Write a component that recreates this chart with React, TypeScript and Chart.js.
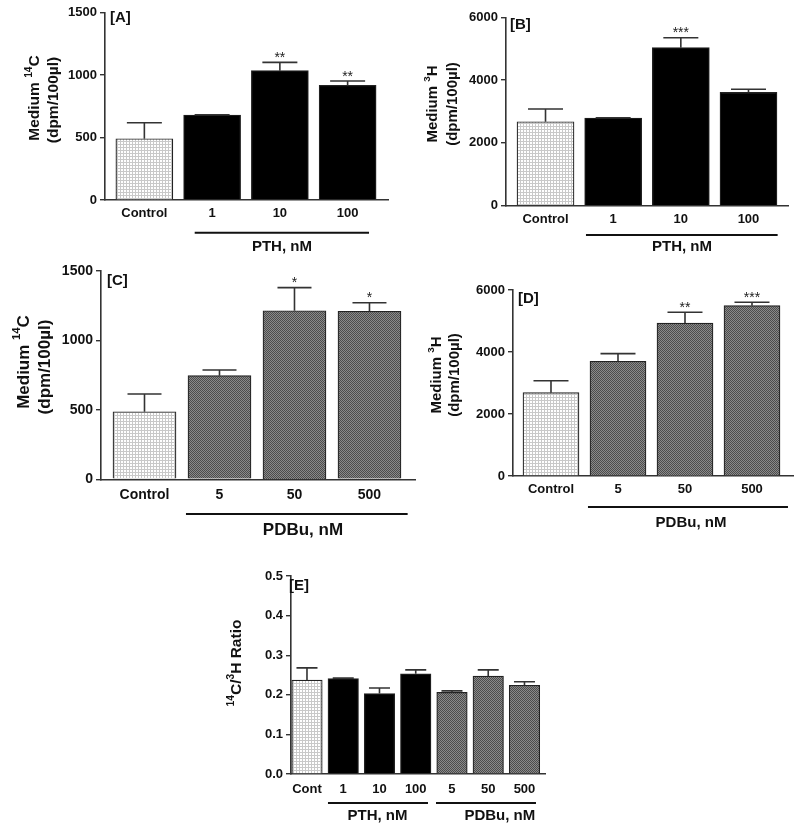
import React, { useEffect, useRef } from 'react';
import { Chart, registerables } from 'chart.js';
Chart.register(...registerables);

// ---------------- data ----------------
const catsA = ['Control', '1', '10', '100'];
const meanA = [490, 680, 1035, 917];
const semA = [128, 2, 66, 35];
const starsA = ['', '', '**', '**'];
const fillA = ['light', 'black', 'black', 'black'];

const catsB = ['Control', '1', '10', '100'];
const meanB = [2675, 2793, 5032, 3611];
const semB = [405, 8, 318, 96];
const starsB = ['', '', '***', ''];
const fillB = ['light', 'black', 'black', 'black'];

const catsC = ['Control', '5', '50', '500'];
const meanC = [486, 745, 1212, 1208];
const semC = [127, 41, 166, 62];
const starsC = ['', '', '*', '*'];
const fillC = ['light', 'gray', 'gray', 'gray'];

const catsD = ['Control', '5', '50', '500'];
const meanD = [2687, 3699, 4935, 5494];
const semD = [388, 247, 345, 109];
const starsD = ['', '', '**', '***'];
const fillD = ['light', 'gray', 'gray', 'gray'];

const catsE = ['Cont', '1', '10', '100', '5', '50', '500'];
const meanE = [0.237, 0.241, 0.203, 0.253, 0.206, 0.247, 0.224];
const semE = [0.031, 0.001, 0.014, 0.01, 0.004, 0.016, 0.009];
const starsE = ['', '', '', '', '', '', ''];
const fillE = ['light', 'black', 'black', 'black', 'gray', 'gray', 'gray'];

const FONT = "'Liberation Sans', Arial, Helvetica, sans-serif";

type Seg = { t: string; sup?: boolean };
type Group = { from: number; to: number; text: string; tx: number };
type Panel = {
  left: number; top: number; w: number; h: number;
  area: { l: number; r: number; t: number; b: number };
  xMin: number; xMax: number; barPx: number; capPx: number;
  tickFont: number; tickPadX: number;
  yMax: number; yStep: number; dec: number;
  cats: string[]; mean: number[]; sem: number[]; stars: string[]; fills: string[];
  title: { lines: Seg[][]; xs: number[]; ys: number[]; size: number };
  label: { text: string; x: number; y: number };
  groups: Group[]; groupY: number; groupTextY: number; groupFont: number;
};

const titleC14: Seg[][] = [[{ t: 'Medium ' }, { t: '14', sup: true }, { t: 'C' }], [{ t: '(dpm/100µl)' }]];
const titleH3: Seg[][] = [[{ t: 'Medium ' }, { t: '3', sup: true }, { t: 'H' }], [{ t: '(dpm/100µl)' }]];
const titleRatio: Seg[][] = [[{ t: '14', sup: true }, { t: 'C/' }, { t: '3', sup: true }, { t: 'H Ratio' }]];

const panels: Panel[] = [
  {
    left: 0, top: 0, w: 400, h: 262, area: { l: 105, r: 388, t: 12.5, b: 200 },
    xMin: -0.581, xMax: 3.596, barPx: 57, capPx: 35, tickFont: 13, tickPadX: 5.5,
    yMax: 1500, yStep: 500, dec: 0,
    cats: catsA, mean: meanA, sem: semA, stars: starsA, fills: fillA,
    title: { lines: titleC14, xs: [35, 54], ys: [98, 100], size: 15.5 },
    label: { text: '[A]', x: 110, y: 18 },
    groups: [{ from: 0.743, to: 3.316, text: 'PTH, nM', tx: 2.03 }], groupY: 232.7, groupTextY: 246.7, groupFont: 15,
  },
  {
    left: 400, top: 0, w: 400, h: 262, area: { l: 106, r: 388, t: 17.3, b: 205.7 },
    xMin: -0.584, xMax: 3.584, barPx: 57, capPx: 35, tickFont: 13, tickPadX: 6,
    yMax: 6000, yStep: 2000, dec: 0,
    cats: catsB, mean: meanB, sem: semB, stars: starsB, fills: fillB,
    title: { lines: titleH3, xs: [33, 53], ys: [104, 104], size: 15 },
    label: { text: '[B]', x: 110, y: 25 },
    groups: [{ from: 0.598, to: 3.431, text: 'PTH, nM', tx: 2.017 }], groupY: 235, groupTextY: 247, groupFont: 15,
  },
  {
    left: 0, top: 250, w: 420, h: 290, area: { l: 101, r: 415, t: 20.7, b: 229.3 },
    xMin: -0.58, xMax: 3.607, barPx: 63, capPx: 34, tickFont: 14, tickPadX: 7.3,
    yMax: 1500, yStep: 500, dec: 0,
    cats: catsC, mean: meanC, sem: semC, stars: starsC, fills: fillC,
    title: { lines: titleC14, xs: [24, 45], ys: [112, 117], size: 17 },
    label: { text: '[C]', x: 107, y: 31 },
    groups: [{ from: 0.553, to: 3.509, text: 'PDBu, nM', tx: 2.113 }], groupY: 264, groupTextY: 280, groupFont: 17,
  },
  {
    left: 400, top: 250, w: 400, h: 290, area: { l: 113, r: 393, t: 40, b: 226 },
    xMin: -0.567, xMax: 3.612, barPx: 56, capPx: 35, tickFont: 13, tickPadX: 5.6,
    yMax: 6000, yStep: 2000, dec: 0,
    cats: catsD, mean: meanD, sem: semD, stars: starsD, fills: fillD,
    title: { lines: titleH3, xs: [37, 55], ys: [125, 125], size: 15 },
    label: { text: '[D]', x: 118, y: 49 },
    groups: [{ from: 0.552, to: 3.537, text: 'PDBu, nM', tx: 2.09 }], groupY: 257, groupTextY: 272.7, groupFont: 15,
  },
  {
    left: 200, top: 560, w: 400, h: 270, area: { l: 91, r: 345, t: 16, b: 214 },
    xMin: -0.441, xMax: 6.566, barPx: 30.5, capPx: 21, tickFont: 13, tickPadX: 7.2,
    yMax: 0.5, yStep: 0.1, dec: 1,
    cats: catsE, mean: meanE, sem: semE, stars: starsE, fills: fillE,
    title: { lines: titleRatio, xs: [37], ys: [103], size: 15.5 },
    label: { text: '[E]', x: 89, y: 26 },
    groups: [
      { from: 0.579, to: 3.338, text: 'PTH, nM', tx: 1.945 },
      { from: 3.559, to: 6.317, text: 'PDBu, nM', tx: 5.32 },
    ],
    groupY: 243, groupTextY: 256, groupFont: 15,
  },
];

function makePatterns() {
  const light = document.createElement('canvas');
  light.width = 3; light.height = 3;
  const lc = light.getContext('2d')!;
  lc.fillStyle = '#ffffff'; lc.fillRect(0, 0, 3, 3);
  lc.fillStyle = '#c9c9c9'; lc.fillRect(0, 0, 3, 1); lc.fillRect(0, 0, 1, 3);
  const gray = document.createElement('canvas');
  gray.width = 2; gray.height = 2;
  const gc = gray.getContext('2d')!;
  gc.fillStyle = '#8a8a8a'; gc.fillRect(0, 0, 2, 2);
  gc.fillStyle = '#4c4c4c'; gc.fillRect(0, 0, 1, 1); gc.fillRect(1, 1, 1, 1);
  const tmp = document.createElement('canvas').getContext('2d')!;
  return {
    light: tmp.createPattern(light, 'repeat'),
    gray: tmp.createPattern(gray, 'repeat'),
    black: '#000000',
  } as Record<string, any>;
}

function drawSegs(ctx: CanvasRenderingContext2D, segs: Seg[], cx: number, cy: number, size: number, rotate: boolean) {
  ctx.save();
  ctx.translate(cx, cy);
  if (rotate) ctx.rotate(-Math.PI / 2);
  let total = 0;
  const parts = segs.map((s) => {
    const fs = s.sup ? size * 0.66 : size;
    ctx.font = `bold ${fs}px ${FONT}`;
    const w = ctx.measureText(s.t).width;
    total += w;
    return { s, fs, w };
  });
  let x = -total / 2;
  ctx.textAlign = 'left';
  ctx.textBaseline = 'middle';
  ctx.fillStyle = '#111';
  for (const p of parts) {
    ctx.font = `bold ${p.fs}px ${FONT}`;
    ctx.fillText(p.s.t, x, p.s.sup ? -size * 0.4 : 0);
    x += p.w;
  }
  ctx.restore();
}

function PanelChart({ p }: { p: Panel }) {
  const ref = useRef<HTMLCanvasElement | null>(null);
  useEffect(() => {
    if (!ref.current) return;
    const pats = makePatterns();
    const deco = {
      id: 'deco',
      afterDatasetsDraw(chart: any) {
        const ctx: CanvasRenderingContext2D = chart.ctx;
        const xs = chart.scales.x;
        const ys = chart.scales.y;
        const meta = chart.getDatasetMeta(0);
        ctx.save();
        // error bars
        ctx.strokeStyle = '#333';
        ctx.lineWidth = 1.6;
        p.mean.forEach((m, i) => {
          const el = meta.data[i];
          const x = el.x;
          const yb = ys.getPixelForValue(m);
          const yt = ys.getPixelForValue(m + p.sem[i]);
          ctx.beginPath();
          ctx.moveTo(x, yb);
          ctx.lineTo(x, yt);
          ctx.moveTo(x - p.capPx / 2, yt);
          ctx.lineTo(x + p.capPx / 2, yt);
          ctx.stroke();
          if (p.stars[i]) {
            ctx.font = `14px ${FONT}`;
            ctx.fillStyle = '#222';
            ctx.textAlign = 'center';
            ctx.textBaseline = 'alphabetic';
            ctx.fillText(p.stars[i], x, yt - 0.5);
          }
        });
        // group brackets
        ctx.strokeStyle = '#111';
        ctx.lineWidth = 2;
        p.groups.forEach((g) => {
          ctx.beginPath();
          ctx.moveTo(xs.getPixelForValue(g.from), p.groupY);
          ctx.lineTo(xs.getPixelForValue(g.to), p.groupY);
          ctx.stroke();
          ctx.font = `bold ${p.groupFont}px ${FONT}`;
          ctx.fillStyle = '#111';
          ctx.textAlign = 'center';
          ctx.textBaseline = 'middle';
          ctx.fillText(g.text, xs.getPixelForValue(g.tx), p.groupTextY);
        });
        // panel label
        ctx.font = `bold 15px ${FONT}`;
        ctx.fillStyle = '#111';
        ctx.textAlign = 'left';
        ctx.textBaseline = 'middle';
        ctx.fillText(p.label.text, p.label.x, p.label.y);
        ctx.restore();
        // y title
        p.title.lines.forEach((ln, k) => drawSegs(ctx, ln, p.title.xs[k], p.title.ys[k], p.title.size, true));
      },
    };
    const chart = new Chart(ref.current, {
      type: 'bar',
      data: {
        datasets: [
          {
            data: p.cats.map((_, i) => ({ x: i, y: p.mean[i] })),
            backgroundColor: p.fills.map((f) => pats[f]),
            borderColor: '#222',
            borderWidth: 1.2,
            barThickness: p.barPx,
          } as any,
        ],
      },
      options: {
        animation: false,
        responsive: false,
        devicePixelRatio: 1,
        events: [],
        layout: { padding: { left: 0, top: p.area.t, right: p.w - p.area.r, bottom: 0 } },
        plugins: { legend: { display: false }, tooltip: { enabled: false } },
        scales: {
          x: {
            type: 'linear',
            offset: false,
            min: p.xMin,
            max: p.xMax,
            grid: { display: false, drawTicks: false, offset: false },
            border: { display: true, color: '#333', width: 1.6 },
            afterBuildTicks: (scale: any) => {
              scale.ticks = p.cats.map((_, i) => ({ value: i }));
            },
            afterFit: (scale: any) => {
              scale.height = p.h - p.area.b;
            },
            ticks: {
              autoSkip: false,
              maxRotation: 0,
              padding: p.tickPadX,
              color: '#111',
              font: { family: FONT, size: p.tickFont, weight: 'bold' },
              callback: (v: any) => p.cats[Math.round(Number(v))] ?? '',
            },
          },
          y: {
            min: 0,
            max: p.yMax,
            grid: { display: true, drawOnChartArea: false, drawTicks: true, tickLength: 5, color: '#333', lineWidth: 1.4 },
            border: { display: true, color: '#333', width: 1.6 },
            afterFit: (scale: any) => {
              scale.width = p.area.l;
            },
            ticks: {
              stepSize: p.yStep,
              padding: 3,
              color: '#111',
              font: { family: FONT, size: p.tickFont, weight: 'bold' },
              callback: (v: any) => Number(v).toFixed(p.dec),
            },
          },
        },
      } as any,
      plugins: [deco],
    });
    return () => chart.destroy();
  }, [p]);
  return (
    <canvas
      ref={ref}
      width={p.w}
      height={p.h}
      style={{ position: 'absolute', left: p.left, top: p.top, width: p.w, height: p.h }}
    />
  );
}

export default function App() {
  return (
    <div style={{ position: 'absolute', left: 0, top: 0, width: 800, height: 830, background: '#fff' }}>
      {panels.map((p, i) => (
        <PanelChart key={i} p={p} />
      ))}
    </div>
  );
}
